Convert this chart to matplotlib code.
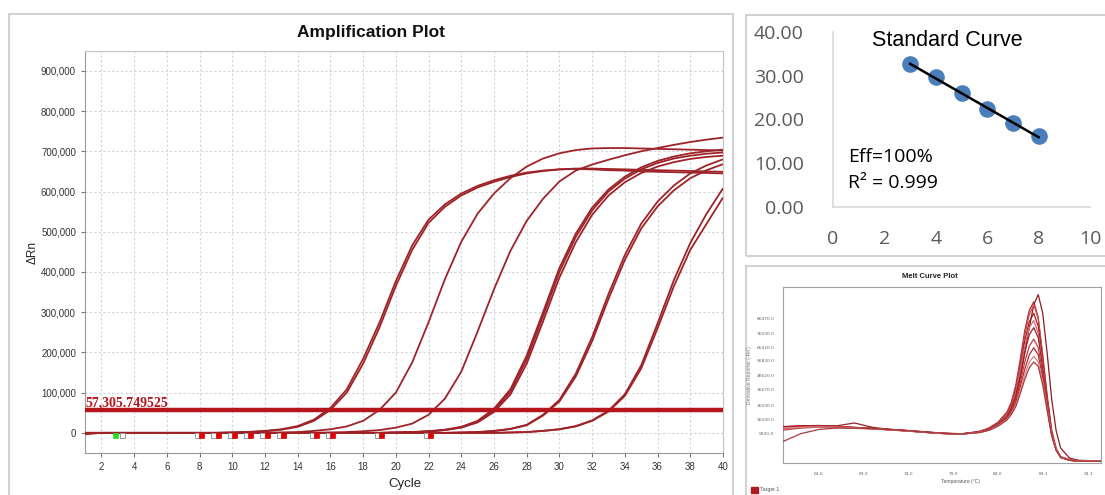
import numpy as np
import matplotlib
matplotlib.use("Agg")
import matplotlib.pyplot as plt
from matplotlib.patches import Rectangle
from matplotlib.ticker import FuncFormatter, FixedLocator

# ---------------- data: amplification plot ----------------
cycles = list(range(1, 41))
threshold = 57305.749525
threshold_label = "57,305.749525"

amp_g1a = [-3000, 0, 0, 0, 0, 0, 0, 0, 0, 1000, 2000, 4000, 8000, 15000, 30000, 57000, 100000, 172000, 262000, 365000,
           455000, 522000, 562000, 590000, 610000, 624000, 636000, 645000, 651000, 655000, 657000, 657000, 656000, 655000, 654000, 653000, 652000, 651000, 650000, 649000]
amp_g1b = [-2000, 0, 0, 0, 0, 0, 0, 0, 0, 1000, 2500, 5000, 9000, 17000, 33000, 62000, 108000, 184000, 274000, 377000,
           466000, 530000, 568000, 595000, 614000, 628000, 639000, 647000, 652000, 655000, 656000, 655000, 653000, 652000, 650000, 649000, 648000, 647000, 646000, 645000]
amp_g2 = [0, 0, 0, 0, 0, 0, 0, 0, 0, 0, 0, 0, 1000, 2000, 5000, 9000, 16000, 30000, 57000, 100000,
          175000, 275000, 382000, 475000, 545000, 595000, 633000, 662000, 682000, 695000, 703000, 707000, 708000, 708000, 707000, 706000, 705000, 704000, 703000, 702000]
amp_g3 = [0, 0, 0, 0, 0, 0, 0, 0, 0, 0, 0, 0, 0, 0, 0, 1000, 2000, 4000, 7000, 13000,
          23000, 45000, 85000, 152000, 252000, 357000, 452000, 527000, 582000, 625000, 652000, 667000, 679000, 690000, 700000, 708000, 716000, 723000, 729000, 734000]
amp_g4a = [0, 0, 0, 0, 0, 0, 0, 0, 0, 0, 0, 0, 0, 0, 0, 0, 0, 0, 0, 1000,
           2000, 4000, 8000, 15000, 30000, 60000, 108000, 192000, 300000, 410000, 495000, 560000, 605000, 637000, 660000, 676000, 687000, 695000, 700000, 704000]
amp_g4b = [0, 0, 0, 0, 0, 0, 0, 0, 0, 0, 0, 0, 0, 0, 0, 0, 0, 0, 0, 1000,
           2000, 4000, 7000, 14000, 28000, 56000, 102000, 183000, 290000, 400000, 487000, 553000, 600000, 632000, 655000, 671000, 682000, 689000, 694000, 697000]
amp_g4c = [0, 0, 0, 0, 0, 0, 0, 0, 0, 0, 0, 0, 0, 0, 0, 0, 0, 0, 0, 1000,
           2000, 3500, 7000, 13000, 26000, 52000, 95000, 172000, 277000, 386000, 474000, 542000, 590000, 623000, 646000, 662000, 673000, 681000, 686000, 689000]
amp_g5a = [0, 0, 0, 0, 0, 0, 0, 0, 0, 0, 0, 0, 0, 0, 0, 0, 0, 0, 0, 0,
           0, 0, 0, 1000, 2000, 5000, 10000, 20000, 45000, 82000, 147000, 238000, 345000, 442000, 520000, 575000, 615000, 645000, 665000, 680000]
amp_g5b = [0, 0, 0, 0, 0, 0, 0, 0, 0, 0, 0, 0, 0, 0, 0, 0, 0, 0, 0, 0,
           0, 0, 0, 1000, 2000, 4500, 9500, 19000, 43000, 78000, 140000, 228000, 333000, 430000, 508000, 563000, 603000, 633000, 653000, 668000]
amp_g6a = [0, 0, 0, 0, 0, 0, 0, 0, 0, 0, 0, 0, 0, 0, 0, 0, 0, 0, 0, 0,
           0, 0, 0, 0, 0, 0, 1000, 2000, 5000, 9000, 17000, 31000, 55000, 96000, 168000, 272000, 380000, 472000, 545000, 608000]
amp_g6b = [0, 0, 0, 0, 0, 0, 0, 0, 0, 0, 0, 0, 0, 0, 0, 0, 0, 0, 0, 0,
           0, 0, 0, 0, 0, 0, 1000, 2000, 5000, 9000, 16000, 30000, 53000, 92000, 160000, 260000, 365000, 455000, 520000, 585000]
amp_curves = [amp_g1a, amp_g1b, amp_g2, amp_g3, amp_g4a, amp_g4b, amp_g4c, amp_g5a, amp_g5b, amp_g6a, amp_g6b]

amp_yticks = [0, 100000, 200000, 300000, 400000, 500000, 600000, 700000, 800000, 900000]
amp_xticks = list(range(2, 41, 2))
baseline_start = [3]
baseline_end = [8, 9, 10, 11, 12, 13, 15, 16, 19, 22]

# ---------------- data: standard curve ----------------
std_log_qty = [3, 4, 5, 6, 7, 8]
std_ct = [32.6, 29.6, 26.1, 22.4, 19.1, 16.1]
std_yticks = [0, 10, 20, 30, 40]
std_xticks = [0, 2, 4, 6, 8, 10]

# ---------------- data: melt curve (values in thousands) ----------------
melt_temp = [60, 62, 64, 66, 68, 70, 72, 74, 76, 78, 80, 82, 83, 84, 85, 85.5, 86, 86.5, 87, 87.5,
             88, 88.5, 89, 89.5, 90, 90.5, 91, 92, 93, 95.5]
melt_c1 = [10.5, 11.0, 11.2, 10.8, 10.2, 9.6, 8.8, 7.9, 7.0, 6.2, 5.9, 7.2, 9.0, 12.0, 17.5, 23.0, 31.0, 45.0, 62.0, 80.0, 96.0, 103.0, 90.0, 62.0, 30.0, 8.0, -4.0, -11.0, -12.5, -13.0]
melt_c2 = [9.5, 10.8, 11.5, 11.0, 10.3, 9.7, 8.9, 8.0, 7.0, 6.2, 5.8, 7.8, 10.0, 14.0, 21.0, 28.0, 40.0, 58.0, 78.0, 92.0, 98.0, 87.0, 60.0, 31.0, 7.0, -5.0, -10.5, -12.5, -13.0, -13.2]
melt_c3 = [10.8, 11.5, 11.8, 11.2, 10.5, 9.8, 9.0, 8.2, 7.2, 6.3, 6.0, 7.6, 9.8, 13.5, 20.0, 27.0, 38.0, 55.0, 75.0, 89.0, 96.0, 86.0, 61.0, 33.0, 9.0, -4.0, -10.0, -12.0, -12.8, -13.0]
melt_c4 = [11.0, 11.6, 11.4, 11.0, 10.4, 9.8, 9.1, 8.3, 7.3, 6.4, 6.0, 7.4, 9.5, 13.2, 19.5, 26.0, 37.0, 53.0, 71.0, 84.0, 90.0, 81.0, 57.0, 30.0, 7.0, -5.0, -10.5, -12.5, -13.0, -13.0]
melt_c5 = [9.8, 10.2, 10.5, 10.2, 9.8, 9.3, 8.6, 7.8, 6.9, 6.1, 5.7, 7.3, 9.3, 12.8, 19.0, 25.0, 35.5, 51.0, 67.0, 80.0, 85.0, 76.0, 54.0, 28.0, 6.0, -5.5, -10.5, -12.5, -13.0, -13.2]
melt_c6 = [10.2, 11.0, 11.5, 11.5, 13.5, 10.5, 9.0, 8.1, 7.1, 6.2, 5.9, 7.2, 9.2, 12.5, 18.0, 24.0, 33.0, 47.0, 63.0, 75.0, 80.0, 73.0, 52.0, 27.0, 6.0, -5.0, -10.0, -12.5, -13.0, -13.0]
melt_c7 = [8.5, 10.0, 10.6, 10.4, 10.0, 9.5, 8.7, 7.9, 6.9, 6.1, 5.8, 7.0, 8.8, 12.0, 17.0, 22.0, 30.0, 42.0, 56.0, 67.0, 72.0, 66.0, 48.0, 25.0, 5.0, -5.5, -10.5, -12.5, -13.0, -13.0]
melt_c8 = [10.3, 11.0, 11.0, 10.7, 10.2, 9.6, 8.8, 8.0, 7.0, 6.2, 5.9, 7.0, 8.7, 11.8, 16.5, 21.0, 28.0, 39.0, 51.0, 61.0, 66.0, 61.0, 45.0, 24.0, 5.0, -5.0, -10.0, -12.0, -12.8, -13.0]
melt_c9 = [10.0, 10.5, 10.8, 10.6, 10.1, 9.5, 8.7, 7.9, 6.9, 6.1, 5.8, 6.9, 8.5, 11.5, 16.0, 20.0, 26.0, 36.0, 47.0, 56.0, 60.0, 56.0, 42.0, 23.0, 5.0, -5.0, -10.0, -12.2, -13.0, -13.0]
melt_c10 = [0.5, 6.0, 9.0, 10.0, 10.0, 9.6, 8.8, 8.0, 7.0, 6.2, 5.9, 6.9, 8.4, 11.2, 15.5, 19.5, 25.0, 34.0, 44.0, 52.0, 56.0, 53.0, 40.0, 22.0, 4.5, -5.5, -10.5, -12.5, -13.0, -13.2]
melt_curves = [melt_c1, melt_c2, melt_c3, melt_c4, melt_c5, melt_c6, melt_c7, melt_c8, melt_c9, melt_c10]
melt_colors = ["#8e1b1f", "#b3262c", "#c84a4f", "#a31d22", "#d06a6e", "#9a2226", "#c0393e", "#b52a30", "#d88a8d", "#a83a3e"]
melt_yticks = [5.83, 16.03, 26.03, 36.67, 46.62, 56.82, 66.42, 76.03, 86.47]
melt_ylabels = ["5830.0", "16030.0", "26030.0", "36670.0", "46620.0", "56820.0", "66420.0", "76030.0", "86470.0"]
melt_xticks = [64.0, 69.0, 74.0, 79.0, 84.0, 89.1, 94.1]
melt_xlabels = ["64.0", "69.0", "74.0", "79.0", "84.0", "89.1", "94.1"]

# ---------------- figure ----------------
W, H = 1105, 495
fig = plt.figure(figsize=(W / 100, H / 100), dpi=100)
fig.patch.set_facecolor("white")


def fx(px):
    return px / W


def fy(py):
    return 1 - py / H


def rect(l, t, r, b):
    return [fx(l), fy(b), fx(r) - fx(l), fy(t) - fy(b)]


def panel(l, t, r, b):
    fig.add_artist(Rectangle((fx(l), fy(b)), fx(r) - fx(l), fy(t) - fy(b), transform=fig.transFigure,
                             fill=False, ec="#d2d2d2", lw=1.5))


panel(8.5, 14, 733, 505)
panel(746, 15, 1112, 256)
panel(746, 266, 1112, 505)

SANS = ["Liberation Sans", "DejaVu Sans"]

# ---------------- amplification plot ----------------
ax = fig.add_axes(rect(85, 50.7, 723, 453))
ax.set_xlim(1, 40)
ax.set_ylim(-50000, 950000)
ax.set_xticks(amp_xticks)
ax.set_yticks(amp_yticks)
ax.yaxis.set_major_formatter(FuncFormatter(lambda v, p: f"{v:,.0f}"))
ax.grid(True, color="#d4d4d4", linestyle=(0, (2, 2)), lw=0.8)
ax.set_axisbelow(True)
for lab in ax.get_xticklabels() + ax.get_yticklabels():
    lab.set_family(SANS)
ax.tick_params(axis="both", labelsize=7, colors="#777777", labelcolor="#333333", length=3, width=0.8)
for s in ["left", "bottom"]:
    ax.spines[s].set_color("#9a9a9a")
for s in ["top", "right"]:
    ax.spines[s].set_color("#c4c4c4")

for vals in amp_curves:
    ax.plot(cycles, vals, color="#9e2328", lw=1.3, solid_capstyle="butt", zorder=3)

ax.axhline(threshold, color="#b5161c", lw=3.2, zorder=4)
ax.text(1.05, threshold + 9000, threshold_label, family=["Liberation Serif", "DejaVu Serif"], fontweight="bold",
        fontsize=10, color="#b5161c", va="baseline", ha="left", zorder=5)

mark_y = -5000
ax.plot([c - 0.15 for c in baseline_end], [mark_y] * len(baseline_end), "s", ms=3.6, mfc="white", mec="#999999",
        mew=0.7, zorder=5, clip_on=False)
ax.plot([c + 0.1 for c in baseline_end], [mark_y] * len(baseline_end), "s", ms=3.6, mfc="#e00000", mec="#e00000",
        mew=0.5, zorder=6, clip_on=False)
ax.plot([c + 0.25 for c in baseline_start], [mark_y], "s", ms=3.6, mfc="white", mec="#999999", mew=0.7, zorder=5)
ax.plot([c - 0.15 for c in baseline_start], [mark_y], "s", ms=3.6, mfc="#22dd22", mec="#22dd22", mew=0.5, zorder=6)

fig.text(fx(371), fy(33), "Amplification Plot", ha="center", va="center", fontsize=12.5, fontweight="bold",
         family=SANS, color="#111111")
fig.text(fx(405), fy(484), "Cycle", ha="center", va="center", fontsize=9.5, family=SANS, color="#222222")
fig.text(fx(33), fy(253), "ΔRn", ha="center", va="center", fontsize=8.5, rotation=90, family=SANS, color="#222222")

# ---------------- standard curve ----------------
ax2 = fig.add_axes(rect(833, 32, 1090, 206.7))
ax2.set_xlim(0, 10)
ax2.set_ylim(0, 40)
ax2.set_xticks(std_xticks)
ax2.set_yticks(std_yticks)
ax2.yaxis.set_major_formatter(FuncFormatter(lambda v, p: f"{v:.2f}"))
for lab in ax2.get_xticklabels() + ax2.get_yticklabels():
    lab.set_family(["Open Sans", "DejaVu Sans"])
ax2.tick_params(axis="both", labelsize=14, labelcolor="#595959", length=0)
ax2.tick_params(axis="y", pad=21)
ax2.tick_params(axis="x", pad=17)
for s in ["top", "right"]:
    ax2.spines[s].set_visible(False)
for s in ["left", "bottom"]:
    ax2.spines[s].set_color("#d9d9d9")
    ax2.spines[s].set_linewidth(1.2)
ax2.scatter(std_log_qty, std_ct, s=120, color="#4a7ebb", zorder=3, clip_on=False)
slope, intercept = np.polyfit(std_log_qty, std_ct, 1)
xf = np.array([std_log_qty[0], std_log_qty[-1]])
ax2.plot(xf, slope * xf + intercept, color="black", lw=1.8, zorder=4)
fig.text(fx(947), fy(40), "Standard Curve", ha="center", va="center", fontsize=15.5, family=SANS, color="black")
fig.text(fx(848), fy(157), "Eff=100%", ha="left", va="center", fontsize=14, family=["Open Sans", "DejaVu Sans"],
         color="black")
fig.text(fx(848), fy(183), "R² = 0.999", ha="left", va="center", fontsize=14, family=["Open Sans", "DejaVu Sans"],
         color="black")

# ---------------- melt curve ----------------
ax3 = fig.add_axes(rect(782.7, 287.3, 1101, 463.3))
ax3.set_xlim(60, 95.5)
ax3.set_ylim(-14.6, 108.1)
for vals, col in zip(melt_curves, melt_colors):
    ax3.plot(melt_temp, vals, color=col, lw=0.9, zorder=3)
ax3.yaxis.set_major_locator(FixedLocator(melt_yticks))
ax3.set_yticklabels(melt_ylabels)
ax3.xaxis.set_major_locator(FixedLocator(melt_xticks))
ax3.set_xticklabels(melt_xlabels)
ax3.tick_params(axis="both", labelsize=3.2, labelcolor="#666666", length=0, pad=6)
for s in ax3.spines.values():
    s.set_color("#a0a0a0")
    s.set_linewidth(0.8)
fig.text(fx(930), fy(277), "Melt Curve Plot", ha="center", va="center", fontsize=5.5, fontweight="bold",
         family=SANS, color="#222222")
fig.text(fx(960), fy(482), "Temperature (°C)", ha="center", va="center", fontsize=3.6, family=SANS, color="#555555")
fig.text(fx(750), fy(375), "Derivative Reporter (-Rn')", ha="center", va="center", fontsize=3.6, rotation=90,
         family=SANS, color="#777777")
fig.add_artist(Rectangle((fx(751), fy(493)), fx(7), fy(0) - fy(6), transform=fig.transFigure, color="#b01c22"))
fig.text(fx(760), fy(490), "Target 1", ha="left", va="center", fontsize=3.8, family=SANS, color="#555555")

fig.savefig("out.png", dpi=100)
